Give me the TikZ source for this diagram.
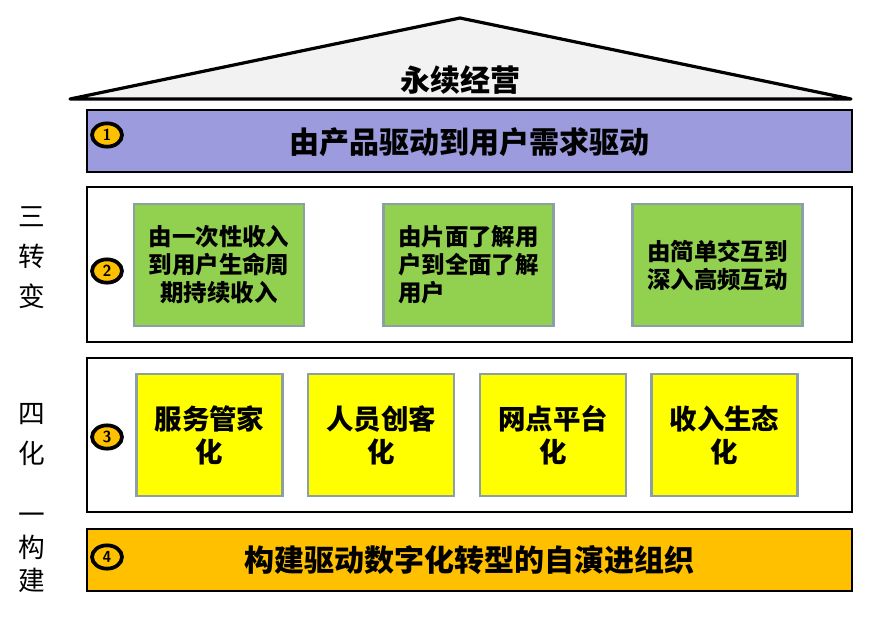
\documentclass[tikz,border=0pt]{standalone}
\usepackage{fontspec}
\usepackage{xcolor}
\usetikzlibrary{shapes.geometric,positioning}
\setmainfont{Liberation Sans}
\newfontfamily\cjk{Noto Sans CJK SC}
\definecolor{roofgrey}{HTML}{F2F2F2}
\definecolor{lavender}{HTML}{9B9BDD}
\definecolor{amber}{HTML}{FFC000}
\definecolor{leaf}{HTML}{92D050}
\definecolor{lemon}{HTML}{FFFF00}
\definecolor{edgegrey}{HTML}{8C9EA6}
\tikzset{
  layer/.style={draw=black, line width=2.2pt, minimum width=573.75pt, minimum height=46.5pt, inner sep=0pt},
  layertext/.style={font=\cjk\bfseries\fontsize{22.5}{27}\selectfont},
  tag/.style={ellipse, draw=black, fill=amber, line width=2.8pt, minimum width=22.5pt, minimum height=17.5pt, inner sep=0pt, font=\sffamily\bfseries\fontsize{12}{14}\selectfont},
  greenbox/.style={draw=edgegrey, fill=leaf, line width=2pt, minimum width=127.5pt, minimum height=91.5pt, align=center, font=\cjk\bfseries\fontsize{17.6}{21}\selectfont},
  yellowbox/.style={draw=edgegrey, fill=lemon, line width=2pt, minimum width=109.5pt, minimum height=91.5pt, align=center, font=\cjk\bfseries\fontsize{20.6}{24.75}\selectfont},
  sidelabel/.style={align=center, font=\cjk\fontsize{20}{30}\selectfont},
}
\begin{document}
\begin{tikzpicture}[x=0.75pt, y=-0.75pt]
  \useasboundingbox (0,0) rectangle (875,619);
  % roof
  \coordinate (roofl) at (70,99);
  \coordinate (roofr) at (851,99);
  \coordinate (apex) at (460,18);
  \draw[fill=roofgrey, line width=2.4pt, line join=round] (roofl) -- (apex) -- (roofr) -- cycle;
  \node[layertext] (roof) at (460,80) {永续经营};
  % layer 1
  \node[layer, fill=lavender] (lay1) at (469.5,141) {};
  \node[layertext] (lay1t) at (469.5,142) {由产品驱动到用户需求驱动};
  \node[tag] (n1) at (107,135) {1};
  % layer 2
  \node[layer, fill=white, minimum height=116.25pt] (lay2) at (469.5,264.5) {};
  \node[tag] (n2) at (107,271) {2};
  \node[greenbox] (g1) at (219,265) {由一次性收入\\到用户生命周\\期持续收入};
  \node[greenbox] (g2) at (468.5,265) {由片面了解用\\户到全面了解\\用户\phantom{了解用户}};
  \node[greenbox] (g3) at (717.5,265) {由简单交互到\\深入高频互动};
  % layer 3
  \node[layer, fill=white, minimum height=115.5pt] (lay3) at (469.5,435) {};
  \node[tag] (n3) at (107,437) {3};
  \node[yellowbox] (y1) at (209.5,435) {服务管家\\化};
  \node[yellowbox] (y2) at (381,435) {人员创客\\化};
  \node[yellowbox] (y3) at (553,435) {网点平台\\化};
  \node[yellowbox] (y4) at (724.5,435) {收入生态\\化};
  % layer 4
  \node[layer, fill=amber] (lay4) at (469.5,560) {};
  \node[layertext] (lay4t) at (469.5,560) {构建驱动数字化转型的自演进组织};
  \node[tag] (n4) at (107,557) {4};
  % side labels
  \node[sidelabel] (three) at (32,258) {三\\转\\变};
  \node[sidelabel] (four) at (32,435) {四\\化};
  \node[sidelabel, font=\cjk\fontsize{20}{24.75}\selectfont] (one) at (32,553) {一\\构\\建};
\end{tikzpicture}
\end{document}
